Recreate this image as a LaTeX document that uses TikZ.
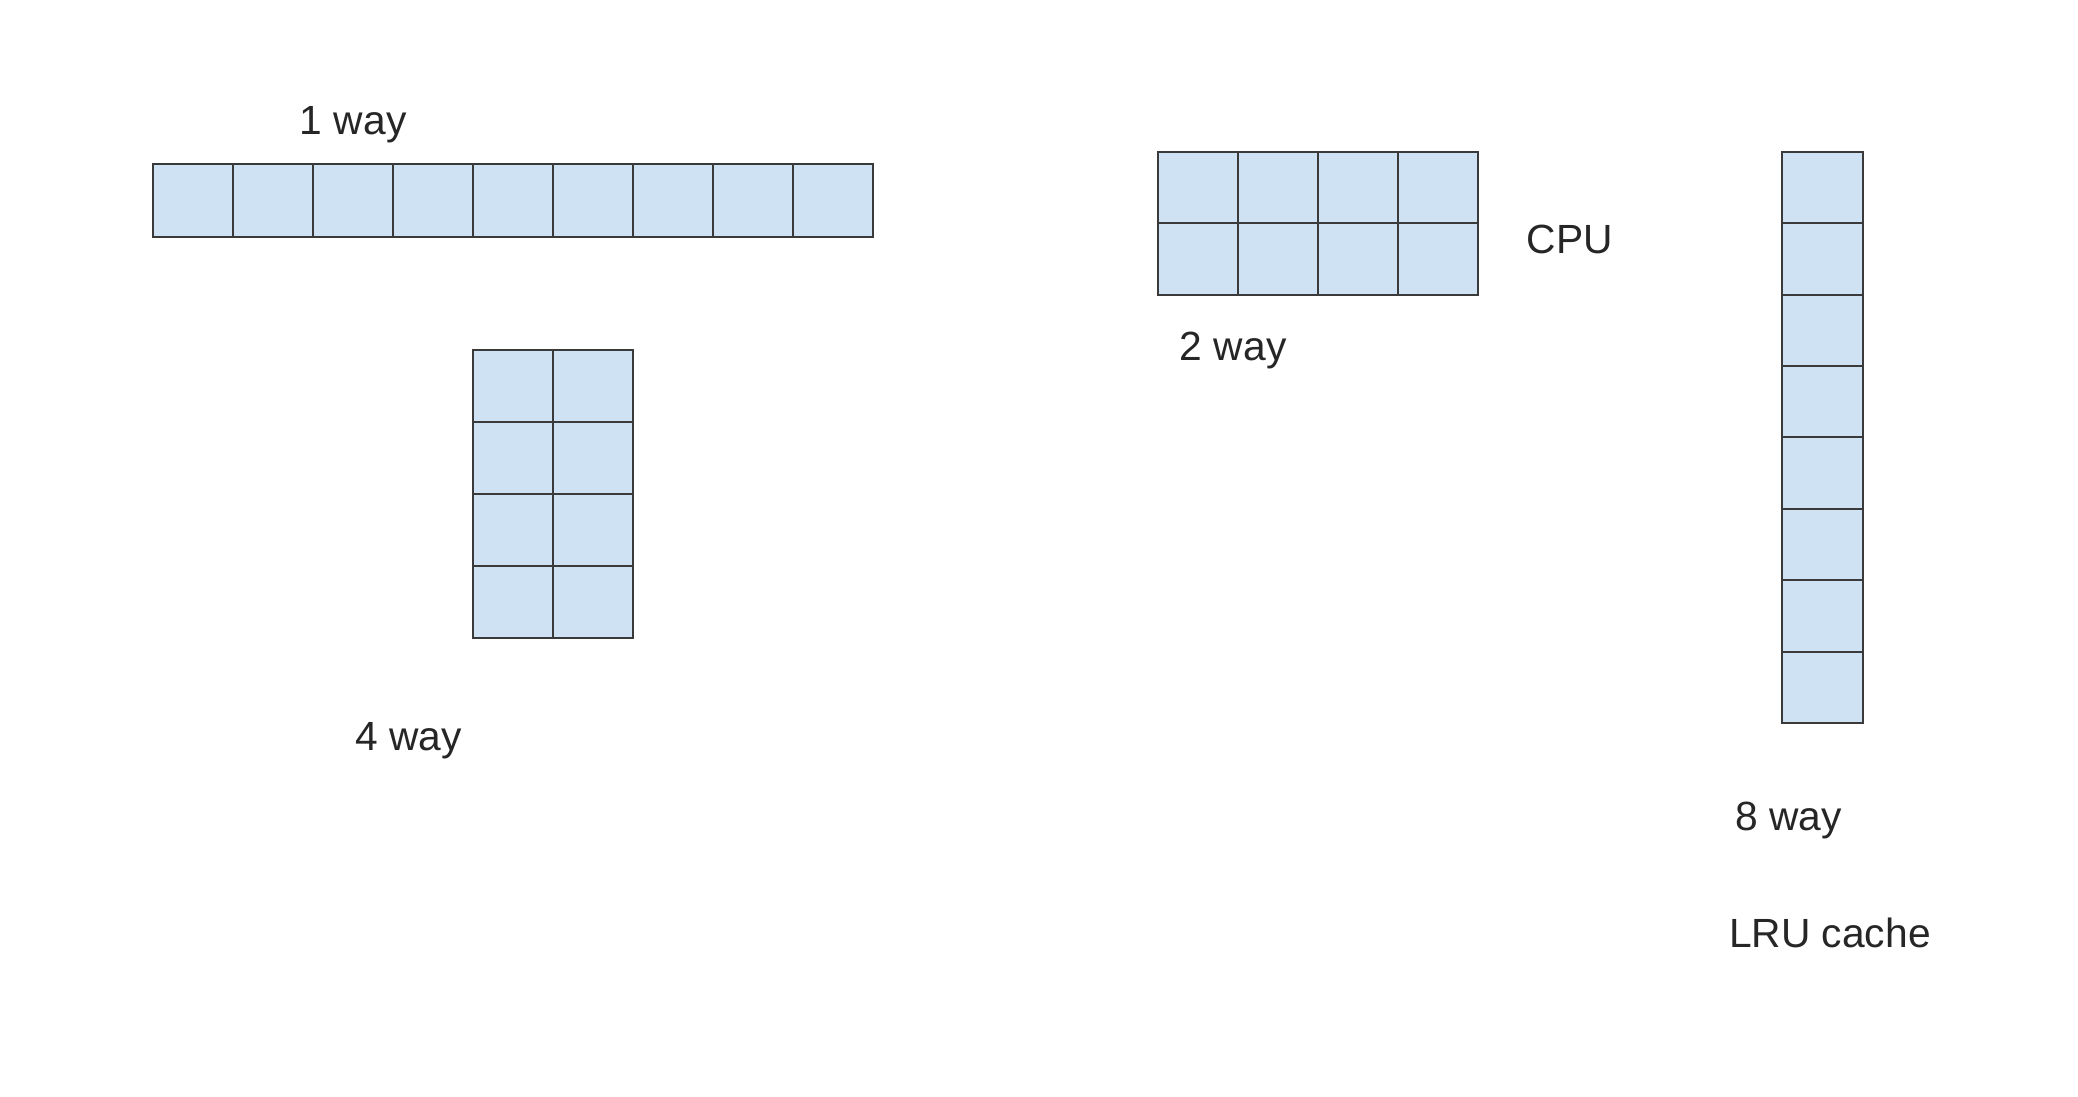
\documentclass[tikz,border=0pt]{standalone}
\usepackage{fontspec}
\setmainfont{Liberation Sans}
\usetikzlibrary{positioning}
\definecolor{cellblue}{HTML}{CFE2F3}
\definecolor{cellline}{HTML}{3A3A3A}

\begin{document}
\begin{tikzpicture}[node distance=0pt, font=\fontsize{11.6}{14}\selectfont]
    % Node Styles
    \tikzstyle{cell} = [rectangle, draw=cellline, fill=cellblue, line width=0.6pt, minimum width=0.80cm, minimum height=0.714cm, inner sep=0pt, outer sep=0pt]
    \tikzstyle{waytext} = [inner sep=0pt, text=black!85]

    \useasboundingbox (0,0) rectangle (20.78,-10.96);

    % --- 1 WAY: ONE ROW ---
    \node [cell, anchor=north west, minimum height=0.728cm] (one1) at (1.532,-1.638) {};
    \foreach \i [remember=\i as \last (initially 1)] in {2,...,9}
        \node [cell, minimum height=0.728cm, right=of one\last] (one\i) {};
    \node [waytext, above=0.2cm of one3] (oneway) {1 way};

    % --- 4 WAY: FOUR ROWS OF TWO ---
    \node [cell, anchor=north west, minimum height=0.72cm] (four11) at (4.734,-3.503) {};
    \foreach \r [remember=\r as \last (initially 1)] in {2,...,4}
        \node [cell, minimum height=0.72cm, below=of four\last1] (four\r1) {};
    \foreach \r in {1,...,4}
        \node [cell, minimum height=0.72cm, right=of four\r1] (four\r2) {};
    \node [waytext] (fourway) at (4.085,-7.406) {4 way};

    % --- 2 WAY: TWO ROWS OF FOUR ---
    \node [cell, anchor=north west] (two11) at (11.576,-1.518) {};
    \node [cell, below=of two11] (two21) {};
    \foreach \c [remember=\c as \last (initially 1)] in {2,...,4} {
        \node [cell, right=of two1\last] (two1\c) {};
        \node [cell, right=of two2\last] (two2\c) {};
    }
    \node [waytext] (twoway) at (12.332,-3.503) {2 way};
    \node [waytext] (cpu) at (15.700,-2.398) {CPU};

    % --- 8 WAY: ONE COLUMN ---
    \node [cell, anchor=north west, minimum width=0.81cm] (eight1) at (17.821,-1.518) {};
    \foreach \i [remember=\i as \last (initially 1)] in {2,...,8}
        \node [cell, minimum width=0.81cm, below=of eight\last] (eight\i) {};
    \node [waytext] (eightway) at (17.888,-8.205) {8 way};
    \node [waytext] (lru) at (18.299,-9.33) {LRU cache};

\end{tikzpicture}
\end{document}
